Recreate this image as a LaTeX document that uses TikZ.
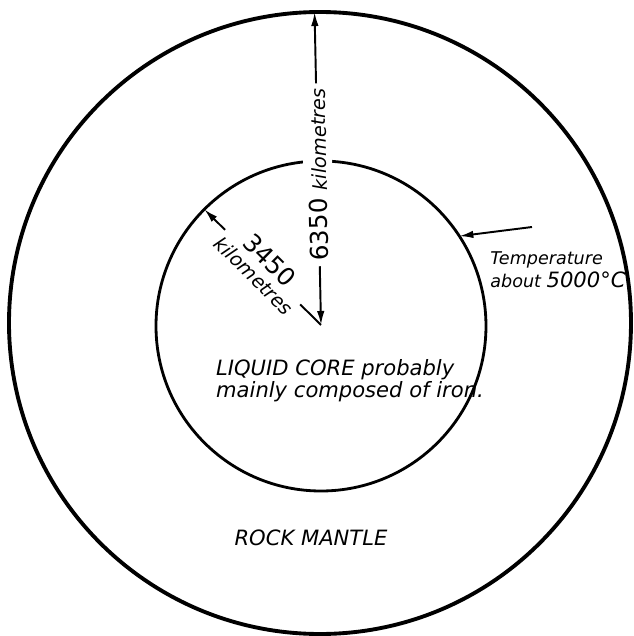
\documentclass[tikz,border=0pt]{standalone}
\usepackage{fontspec}
\setmainfont{DejaVu Sans}
\usetikzlibrary{arrows.meta}

\begin{document}
\begin{tikzpicture}[>={Latex[length=2.8mm,width=1.5mm]},
    shell/.style={draw, circle, inner sep=0pt, outer sep=0pt},
    dim/.style={line width=1.1pt},
    lettering/.style={font=\fontsize{12}{12.5}\selectfont\itshape, align=left}]
  \useasboundingbox (-6.42,-6.22) rectangle (6.24,6.5);
  \node[shell, line width=2.2pt, minimum size=12.44cm] (mantle) at (-0.02,0.04) {};
  \node[shell, line width=1.6pt, minimum size=6.6cm] (core) at (0,-0.02) {};
  \coordinate (ctr) at (0,0);
  % radius of the core
  \draw[dim, ->] (ctr) -- node[sloped, pos=0.5, fill=white, inner sep=1pt, align=center]
      {\fontsize{14}{16}\selectfont 3450\\\fontsize{11}{16}\selectfont\itshape kilometres} (core.135);
  % radius of the earth
  \draw[dim, <->] (ctr) -- node[sloped, allow upside down, pos=0.48, fill=white, inner sep=3pt]
      {\fontsize{14}{14}\selectfont 6350 \fontsize{11}{14}\selectfont\itshape kilometres} (mantle.91.5);
  % temperature at the boundary
  \coordinate (tempfrom) at (4.22,1.96);
  \draw[dim, ->] (tempfrom) -- (core.33);
  \node[lettering, font=\fontsize{10}{13}\selectfont\itshape] (temp) at (4.74,1.1)
      {Temperature\\about {\fontsize{12}{13}\selectfont 5000°C}};
  \node[lettering] (corelabel) at (0.58,-1.12) {LIQUID CORE probably\\mainly composed of iron.};
  \node[lettering] (mantlelabel) at (-0.2,-4.26) {ROCK MANTLE};
\end{tikzpicture}
\end{document}
